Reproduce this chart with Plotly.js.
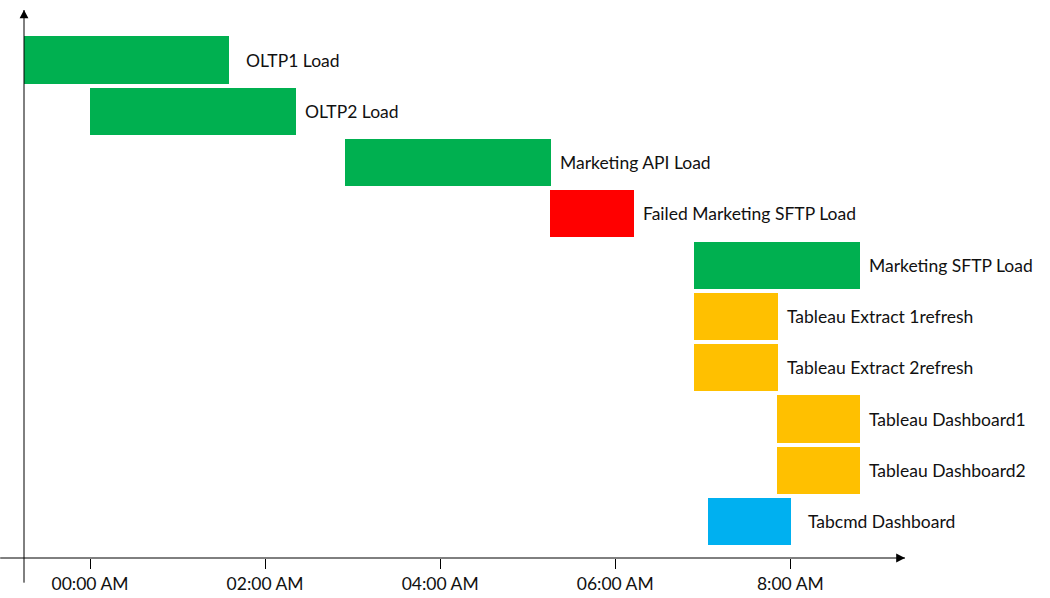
<!DOCTYPE html>
<html>
<head>
<meta charset="utf-8">
<script src="https://cdn.plot.ly/plotly-3.0.1.min.js"></script>
<style>html,body{margin:0;padding:0;background:#fff}#chart{width:1050px;height:598px}</style>
</head>
<body>
<div id="chart"></div>
<script>
// tasks, top to bottom; times in hours after midnight
const tasks = ['OLTP1 Load', 'OLTP2 Load', 'Marketing API Load', 'Failed Marketing SFTP Load',
    'Marketing SFTP Load', 'Tableau Extract 1refresh', 'Tableau Extract 2refresh',
    'Tableau Dashboard1', 'Tableau Dashboard2', 'Tabcmd Dashboard']
const starts = [-0.75, 0, 2.91, 5.26, 6.9, 6.9, 6.9, 7.85, 7.85, 7.06]
const ends = [1.59, 2.35, 5.27, 6.21, 8.8, 7.86, 7.86, 8.8, 8.8, 8.01]
const status = ['ok', 'ok', 'ok', 'failed', 'ok', 'extract', 'extract', 'dash', 'dash', 'tabcmd']
const tickHours = [0, 2, 4, 6, 8]
const tickLabels = ['00:00 AM', '02:00 AM', '04:00 AM', '06:00 AM', '8:00 AM']

const colorOf = {ok: '#00B050', failed: '#FF0000', extract: '#FFC000', dash: '#FFC000', tabcmd: '#00B0F0'}

const trace = {
    type: 'bar',
    orientation: 'h',
    y: tasks,
    base: starts,
    x: ends.map((e, i) => e - starts[i]),
    width: 0.92,
    marker: {color: status.map(s => colorOf[s])},
    hoverinfo: 'skip'
}

const font = {family: 'Lato, "Open Sans", sans-serif', size: 17.5, color: '#111'}

const annotations = tasks.map((t, i) => ({
    x: ends[i] + (i == 0 || i == 9 ? 0.17 : 0.08), y: t, text: t, showarrow: false,
    xanchor: 'left', yanchor: 'middle', font: font
}))

const layout = {
    width: 1050, height: 598,
    margin: {l: 24, r: 145, t: 10, b: 40},
    paper_bgcolor: '#fff', plot_bgcolor: '#fff',
    showlegend: false,
    bargap: 0,
    xaxis: {
        range: [-0.754, 9.31], tickvals: tickHours, ticktext: tickLabels,
        ticks: 'outside', ticklen: 10, tickcolor: '#000', showgrid: false, zeroline: false,
        showline: false, tickfont: font
    },
    yaxis: {
        type: 'category', range: [9.71, -0.975], showticklabels: false,
        showgrid: false, zeroline: false, showline: false
    },
    annotations: annotations,
    shapes: [
        {type: 'line', xref: 'paper', yref: 'paper', x0: -0.027, x1: 1, y0: 0, y1: 0, line: {color: '#000', width: 1}},
        {type: 'path', xref: 'paper', yref: 'paper', path: 'M 1 0 L 0.99 0.008 L 0.99 -0.008 Z', fillcolor: '#000', line: {width: 0}},
        {type: 'line', xref: 'paper', yref: 'paper', x0: 0, x1: 0, y0: -0.045, y1: 1, line: {color: '#000', width: 1}},
        {type: 'path', xref: 'paper', yref: 'paper', path: 'M 0 1 L -0.005 0.985 L 0.005 0.985 Z', fillcolor: '#000', line: {width: 0}}
    ]
}

Plotly.newPlot('chart', [trace], layout, {displayModeBar: false, staticPlot: true})
</script>
</body>
</html>
